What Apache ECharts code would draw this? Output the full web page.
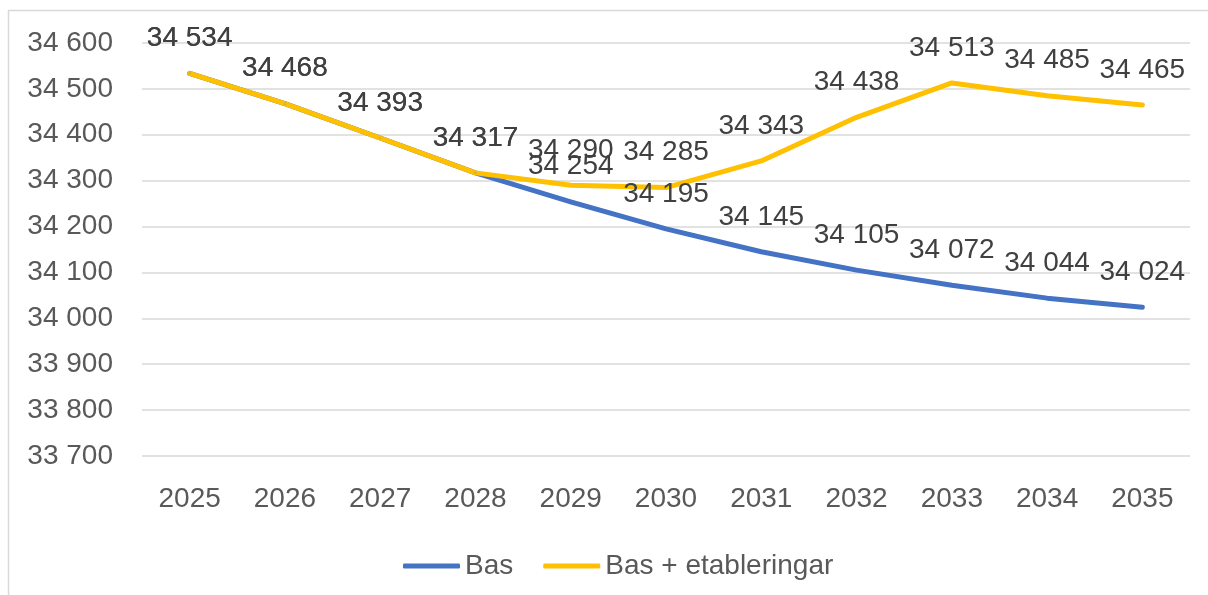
<!DOCTYPE html>
<html lang="sv">
<head>
    <meta charset="UTF-8">
    <title>Befolkning</title>
    <script src="https://cdn.jsdelivr.net/npm/echarts@6/dist/echarts.min.js"></script>
    <style>
        html, body { margin: 0; padding: 0; background: #fff; }
    </style>
</head>
<body>
<div id="main" style="width: 1208px;height:595px;"></div>
<script>
    // år på x-axeln
    var years = ['2025', '2026', '2027', '2028', '2029', '2030', '2031', '2032', '2033', '2034', '2035'];
    // Bas
    var bas = [34534, 34468, 34393, 34317, 34254, 34195, 34145, 34105, 34072, 34044, 34024];
    // Bas + etableringar
    var basEtab = [34534, 34468, 34393, 34317, 34290, 34285, 34343, 34438, 34513, 34485, 34465];

    var fontFam = '"Liberation Sans", Arial, sans-serif';

    function fmt(v) {
        var s = String(Math.round(v));
        return s.replace(/\B(?=(\d{3})+(?!\d))/g, ' ');
    }

    var myChart = echarts.init(document.getElementById('main'));

    var option = {
        backgroundColor: '#fff',
        animation: false,
        textStyle: { fontFamily: fontFam },
        graphic: [{
            type: 'rect',
            shape: { x: 8.5, y: 10.5, width: 1220, height: 620 },
            style: { fill: 'none', stroke: '#d9d9d9', lineWidth: 1.5 },
            silent: true
        }],
        grid: {
            left: 142,
            right: 18,
            top: 43,
            bottom: 139
        },
        legend: {
            left: 398,
            top: 547,
            itemWidth: 57,
            itemHeight: 5,
            itemGap: 30,
            icon: 'roundRect',
            textStyle: {
                color: '#595959',
                fontSize: 28,
                fontFamily: fontFam
            },
            data: ['Bas', 'Bas + etableringar']
        },
        xAxis: {
            type: 'category',
            data: years,
            boundaryGap: true,
            axisLine: { show: false },
            axisTick: { show: false },
            axisLabel: {
                color: '#595959',
                fontSize: 28,
                fontFamily: fontFam,
                margin: 29
            }
        },
        yAxis: {
            type: 'value',
            min: 33700,
            max: 34600,
            interval: 100,
            axisLine: { show: false },
            axisTick: { show: false },
            splitLine: {
                lineStyle: { color: '#d9d9d9', width: 1.5 }
            },
            axisLabel: {
                color: '#595959',
                fontSize: 28,
                fontFamily: fontFam,
                margin: 29,
                formatter: fmt
            }
        },
        series: [
            {
                name: 'Bas',
                type: 'line',
                data: bas,
                symbol: 'circle',
                symbolSize: 2,
                itemStyle: { color: '#4472c4' },
                lineStyle: { color: '#4472c4', width: 5, cap: 'round', join: 'round' },
                label: {
                    show: true,
                    position: 'top',
                    distance: 20,
                    color: '#404040',
                    fontSize: 28,
                    fontFamily: fontFam,
                    formatter: function (p) { return fmt(p.value); }
                }
            },
            {
                name: 'Bas + etableringar',
                type: 'line',
                data: basEtab,
                symbol: 'circle',
                symbolSize: 2,
                itemStyle: { color: '#ffc000' },
                lineStyle: { color: '#ffc000', width: 5, cap: 'round', join: 'round' },
                label: {
                    show: true,
                    position: 'top',
                    distance: 20,
                    color: '#404040',
                    fontSize: 28,
                    fontFamily: fontFam,
                    formatter: function (p) { return fmt(p.value); }
                }
            }
        ]
    };

    myChart.setOption(option);
</script>
</body>
</html>
